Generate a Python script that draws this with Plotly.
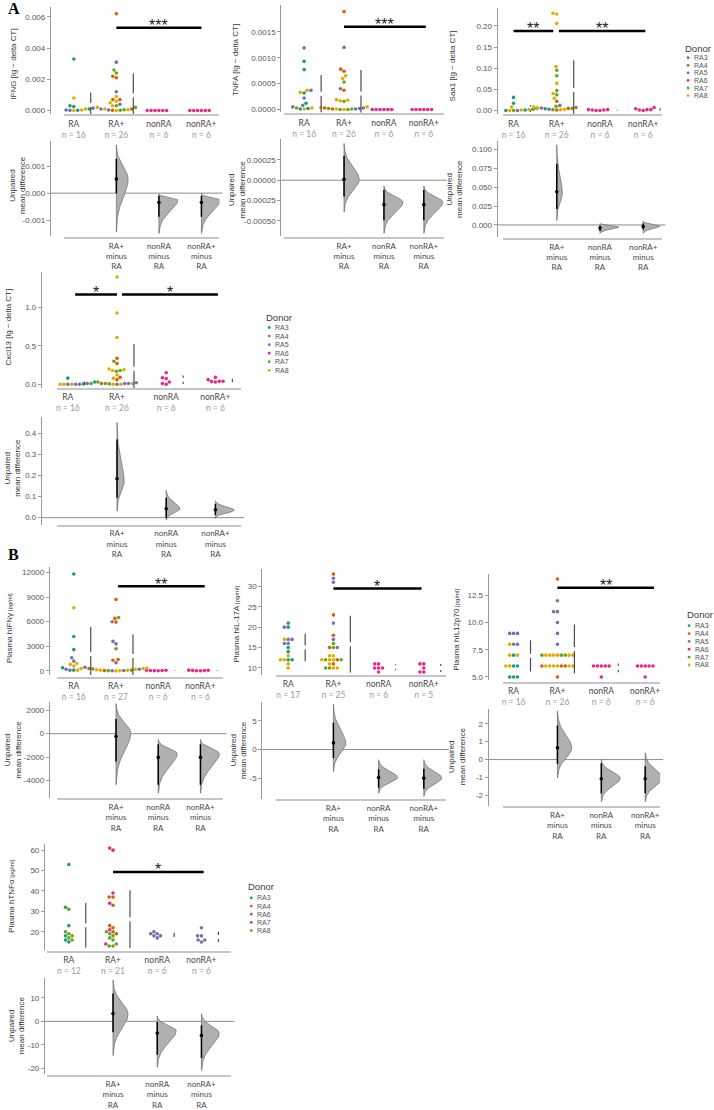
import numpy as np
import plotly.graph_objects as go

W, H = 714, 1110
DARK2 = ["#1B9E77", "#D95F02", "#7570B3", "#E7298A", "#66A61E", "#E6AB02"]
GROUPS = ["RA", "RA+", "nonRA", "nonRA+"]
DIFF_LABELS = ["RA+<br>minus<br>RA", "nonRA<br>minus<br>RA", "nonRA+<br>minus<br>RA"]
DONORS_6 = [3, 4, 5, 6, 7, 8]
DONORS_5 = [3, 4, 6, 7, 8]

# ---------------- A: IFNG ----------------
IFNG_VALUES = {
    "RA": [0.0033, 0.0008, 0.0003, 0.00025, 0.0002, 0.0002, 0.00015, 0.0001, 0.0001, 0.00005, 0.0001, 0.00003, 0.00003, 0.00002, 0.00001, 0.0],
    "RA+": [0.0062, 0.0031, 0.0026, 0.0024, 0.0022, 0.0021, 0.0012, 0.0009, 0.0007, 0.0007, 0.0006, 0.0005, 0.0004, 0.0003, 0.0003, 0.0002, 0.0002, 0.0001, 0.0001, 0.0001, 0.00005, 0.00005, 0.00003, 0.00002, 0.00001, 0.0],
    "nonRA": [0.0, 0.0, 0.0, 0.0, 0.0, 0.0],
    "nonRA+": [0.0, 0.0, 0.0, 0.0, 0.0, 0.0],
}
IFNG_DONORS = {
    "RA": [3, 8, 3, 3, 8, 7, 5, 8, 3, 7, 3, 5, 8, 3, 5, 8],
    "RA+": [4, 5, 7, 7, 4, 4, 5, 8, 4, 4, 8, 8, 5, 7, 8, 8, 7, 8, 5, 4, 7, 8, 5, 7, 4, 8],
    "nonRA": [6, 6, 6, 6, 6, 6],
    "nonRA+": [6, 6, 6, 6, 6, 6],
}
IFNG_DIFF = dict(mean=[0.00053, -0.00035, -0.00035], ci_lo=[0.0, -0.00088, -0.00088], ci_hi=[0.00128, -0.0001, -0.0001],
                 dist_lo=[-0.00145, -0.0015, -0.0015], dist_peak=[0.00052, -0.00026, -0.00026], dist_hi=[0.0018, -0.00002, -0.00002])
IFNG_SIG = [(1.0, 3.0, 0.0053, "***")]
IFNG_YTICKS = [0.0, 0.002, 0.004, 0.006]
IFNG_DTICKS = [-0.001, 0.0, 0.001]

# ---------------- A: TNFA ----------------
TNFA_VALUES = {
    "RA": [0.00119, 0.00093, 0.00077, 0.00037, 0.00033, 0.00037, 0.00032, 0.00022, 0.00012, 0.00008, 0.00003, 0.00003, 0.00002, 0.00005, 0.00001, 0.00001],
    "RA+": [0.00189, 0.0012, 0.00078, 0.00074, 0.00065, 0.0006, 0.00053, 0.0004, 0.00037, 0.00018, 0.00019, 0.00017, 0.00016, 0.00005, 0.00003, 0.00002, 0.00001, 0.00001, 0.00002, 0.0, 0.0, 0.00001, 0.00001, 0.0, 0.00004, 0.00003],
    "nonRA": [0.0, 0.0, 0.0, 0.0, 0.0, 0.0],
    "nonRA+": [0.0, 0.0, 0.0, 0.0, 0.0, 0.0],
}
TNFA_DONORS = {
    "RA": [5, 3, 3, 8, 8, 5, 3, 5, 3, 5, 7, 8, 3, 5, 8, 3],
    "RA+": [4, 5, 4, 4, 8, 8, 7, 5, 4, 8, 8, 8, 7, 8, 4, 7, 8, 7, 5, 8, 7, 4, 5, 7, 8, 5],
    "nonRA": [6, 6, 6, 6, 6, 6],
    "nonRA+": [6, 6, 6, 6, 6, 6],
}
TNFA_DIFF = dict(mean=[0.00001, -0.0003, -0.0003], ci_lo=[-0.0002, -0.00049, -0.00049], ci_hi=[0.0003, -0.00012, -0.00012],
                 dist_lo=[-0.00039, -0.00065, -0.00065], dist_peak=[0.00001, -0.00027, -0.00027], dist_hi=[0.00045, -0.00007, -0.00007])
TNFA_SIG = [(1.0, 3.05, 0.0016, "***")]
TNFA_YTICKS = [0.0, 0.0005, 0.001, 0.0015]
TNFA_DTICKS = [-0.0005, -0.00025, 0.0, 0.00025]

# ---------------- A: Saa1 ----------------
SAA1_VALUES = {
    "RA": [0.031, 0.017, 0.008, 0.005, 0.004, 0.003, 0.003, 0.002, 0.001, 0.001, 0.001, 0.001, 0.0, 0.0, 0.0, 0.0],
    "RA+": [0.23, 0.228, 0.206, 0.104, 0.095, 0.082, 0.064, 0.047, 0.04, 0.037, 0.029, 0.022, 0.012, 0.01, 0.008, 0.007, 0.006, 0.006, 0.005, 0.005, 0.004, 0.003, 0.003, 0.002, 0.002, 0.001],
    "nonRA": [0.002, 0.001, 0.002, 0.0, 0.001, 0.0],
    "nonRA+": [0.007, 0.004, 0.002, 0.001, 0.0, 0.002],
}
SAA1_DONORS = {
    "RA": [3, 3, 8, 7, 4, 5, 3, 8, 8, 5, 3, 4, 7, 8, 5, 3],
    "RA+": [8, 8, 8, 8, 7, 7, 8, 7, 8, 7, 8, 4, 5, 7, 8, 4, 5, 8, 4, 7, 3, 5, 8, 7, 8, 4],
    "nonRA": [6, 6, 6, 6, 6, 6],
    "nonRA+": [6, 6, 6, 6, 6, 6],
}
SAA1_DIFF = dict(mean=[0.044, -0.004, -0.002], ci_lo=[0.021, -0.008, -0.006], ci_hi=[0.081, -0.001, 0.002],
                 dist_lo=[0.006, -0.011, -0.011], dist_peak=[0.042, -0.003, -0.002], dist_hi=[0.106, 0.002, 0.005])
SAA1_SIG = [(0.0, 0.92, 0.188, "**"), (1.05, 3.05, 0.188, "**")]
SAA1_YTICKS = [0.0, 0.05, 0.1, 0.15, 0.2]
SAA1_DTICKS = [0.0, 0.025, 0.05, 0.075, 0.1]

# ---------------- A: Cxcl13 ----------------
CXCL13_VALUES = {
    "RA": [0.08, 0.03, 0.02, 0.01, 0.01, 0.0, 0.0, 0.01, 0.01, 0.005, 0.005, 0.0, 0.0, 0.0, 0.0, 0.0],
    "RA+": [1.4, 0.93, 0.61, 0.34, 0.30, 0.27, 0.20, 0.19, 0.18, 0.17, 0.18, 0.09, 0.12, 0.08, 0.06, 0.03, 0.02, 0.01, 0.01, 0.01, 0.01, 0.01, 0.005, 0.0, 0.0, 0.0],
    "nonRA": [0.15, 0.085, 0.075, 0.03, 0.01, 0.0],
    "nonRA+": [0.04, 0.04, 0.09, 0.06, 0.03, 0.035],
}
CXCL13_DONORS = {
    "RA": [3, 3, 3, 3, 5, 5, 8, 8, 7, 5, 3, 8, 8, 5, 7, 5],
    "RA+": [8, 8, 8, 4, 7, 4, 8, 8, 7, 7, 8, 4, 8, 8, 4, 7, 5, 5, 5, 7, 8, 4, 7, 5, 8, 8],
    "nonRA": [6, 6, 6, 6, 6, 6],
    "nonRA+": [6, 6, 6, 6, 6, 6],
}
CXCL13_DIFF = dict(mean=[0.184, 0.042, 0.037], ci_lo=[0.094, 0.0, 0.012], ci_hi=[0.37, 0.094, 0.065],
                   dist_lo=[0.031, -0.012, -0.003], dist_peak=[0.17, 0.04, 0.035], dist_hi=[0.45, 0.13, 0.08])
CXCL13_SIG = [(0.15, 1.0, 1.17, "*"), (1.1, 3.05, 1.17, "*")]
CXCL13_YTICKS = [0.0, 0.5, 1.0]
CXCL13_DTICKS = [0.0, 0.1, 0.2, 0.3, 0.4]

# ---------------- B: IFNγ ----------------
IFNY_VALUES = {
    "RA": [11800, 7700, 4200, 2600, 1600, 1200, 900, 800, 600, 400, 450, 300, 200, 100, 100, 100],
    "RA+": [8700, 6500, 6400, 6000, 5950, 3600, 3300, 2700, 1400, 1300, 1000, 350, 300, 300, 250, 200, 150, 200, 100, 100, 80, 60, 50, 40, 30, 20, 10],
    "nonRA": [100, 80, 60, 50, 40, 30],
    "nonRA+": [100, 80, 70, 50, 30, 20],
}
IFNY_DONORS = {
    "RA": [3, 8, 3, 3, 5, 5, 8, 8, 8, 3, 5, 8, 5, 3, 5, 8],
    "RA+": [4, 7, 4, 5, 4, 5, 5, 7, 4, 4, 5, 8, 8, 4, 7, 8, 8, 5, 8, 7, 8, 4, 5, 7, 8, 5, 8],
    "nonRA": [6, 6, 6, 6, 6, 6],
    "nonRA+": [6, 6, 6, 6, 6, 6],
}
IFNY_DIFF = dict(mean=[-230, -2030, -2030], ci_lo=[-2370, -4370, -4370], ci_hi=[1260, -900, -900],
                 dist_lo=[-4370, -5090, -5090], dist_peak=[50, -1700, -1700], dist_hi=[2570, -490, -490])
IFNY_SIG = [(1.05, 3.1, 10300, "**")]
IFNY_YTICKS = [0, 3000, 6000, 9000, 12000]
IFNY_DTICKS = [-4000, -2000, 0, 2000]

# ---------------- B: IL-17A ----------------
IL17_VALUES = {
    "RA": [21, 20, 20, 17, 17, 17, 16, 16, 15, 14, 13, 12, 12, 12, 12, 11, 10],
    "RA+": [33, 32, 31, 23, 21, 18, 17, 16, 15, 15, 15, 13, 13, 12, 12, 12, 12, 12, 12, 11, 11, 10, 10, 10, 10],
    "nonRA": [10, 10, 11, 9, 11, 10],
    "nonRA+": [11, 9, 9, 11, 10],
}
IL17_DONORS = {
    "RA": [3, 3, 5, 5, 8, 5, 5, 5, 3, 3, 8, 3, 8, 3, 8, 8, 8],
    "RA+": [4, 5, 5, 4, 5, 4, 5, 7, 7, 4, 5, 8, 8, 8, 8, 4, 7, 7, 8, 4, 8, 8, 7, 8, 7],
    "nonRA": [6, 6, 6, 6, 6, 6],
    "nonRA+": [6, 6, 6, 6, 6],
}
IL17_DIFF = dict(mean=[1.16, -4.83, -4.94], ci_lo=[-1.45, -6.6, -6.8], ci_hi=[4.65, -3.4, -3.3],
                 dist_lo=[-3.8, -7.56, -8.1], dist_peak=[1.0, -4.8, -4.9], dist_hi=[7.85, -1.75, -1.75])
IL17_SIG = [(1.0, 2.95, 29.5, "*")]
IL17_YTICKS = [10, 15, 20, 25, 30]
IL17_DTICKS = [-5, 0, 5]

# ---------------- B: IL12p70 ----------------
IL12_VALUES = {
    "RA": [9, 9, 9, 8, 8, 8, 7, 7, 7, 6, 6, 6, 6, 5, 5, 5],
    "RA+": [14, 12, 11, 11, 10, 9, 8, 7, 7, 7, 7, 7, 7, 7, 7, 7, 6, 6, 6, 6, 6, 6, 6, 6, 6, 5],
    "nonRA": [6, 6, 6, 6, 6, 5],
    "nonRA+": [6, 6, 6, 6, 6, 5],
}
IL12_DONORS = {
    "RA": [5, 5, 5, 5, 8, 5, 3, 8, 8, 3, 8, 3, 8, 3, 3, 3],
    "RA+": [4, 5, 5, 5, 5, 5, 5, 8, 8, 7, 8, 7, 8, 8, 7, 8, 8, 8, 4, 8, 4, 8, 8, 4, 8, 4],
    "nonRA": [6, 6, 6, 6, 6, 6],
    "nonRA+": [6, 6, 6, 6, 6, 6],
}
IL12_DIFF = dict(mean=[0.66, -1.07, -1.07], ci_lo=[-0.25, -1.9, -1.88], ci_hi=[1.9, -0.2, -0.38],
                 dist_lo=[-1.03, -2.35, -2.35], dist_peak=[0.65, -1.05, -1.05], dist_hi=[2.72, 0.0, 0.38])
IL12_SIG = [(1.0, 3.2, 13.2, "**")]
IL12_YTICKS = [5.0, 7.5, 10.0, 12.5]
IL12_DTICKS = [-2, -1, 0, 1, 2]

# ---------------- B: TNFα ----------------
TNFa_VALUES = {
    "RA": [53, 32, 31, 23, 20, 19, 18, 18, 17, 16, 16, 15],
    "RA+": [61, 60, 39, 37, 37, 34, 33, 23, 22, 21, 20, 20, 19, 19, 18, 17, 16, 14, 14, 13, 13],
    "nonRA": [19, 20, 19, 18, 17, 18],
    "nonRA+": [22, 18, 18, 16, 16, 15],
}
TNFa_DONORS = {
    "RA": [3, 3, 8, 3, 8, 8, 3, 8, 8, 3, 8, 3],
    "RA+": [7, 7, 7, 4, 4, 7, 4, 4, 4, 7, 4, 8, 8, 4, 8, 8, 8, 8, 7, 8, 8],
    "nonRA": [6, 6, 6, 6, 6, 6],
    "nonRA+": [6, 6, 6, 6, 6, 6],
}
TNFa_DIFF = dict(mean=[3.3, -5.0, -6.0], ci_lo=[-4.6, -14.3, -15.7], ci_hi=[11.9, -0.3, -1.7],
                 dist_lo=[-14.6, -19.6, -21.0], dist_peak=[3.0, -4.0, -5.0], dist_hi=[17.6, 2.3, 3.3])
TNFa_SIG = [(1.0, 3.05, 49.3, "*")]
TNFa_YTICKS = [20, 30, 40, 50, 60]
TNFa_DTICKS = [-20, -10, 0, 10]

PG = "<span style='font-size:6px'> [pg/ml]</span>"

PANELS = [
    dict(vals=IFNG_VALUES, dons=IFNG_DONORS, diff=IFNG_DIFF, sig=IFNG_SIG, dset=DONORS_6,
         yt=IFNG_YTICKS, dt=IFNG_DTICKS, ft="{:.3f}", fd="{:.3f}", title="IFNG [lg − delta CT]",
         lay=dict(yx=48, xd=(62, 218), xcal=(72, 200), top=(7, 115), yct=((0, 111), (0.006, 17)), xlt=116,
                  bot=(142, 237), ycb=((0, 194), (0.001, 167)), xlb=239, tt=(12, 64), tb=(15, 186)), legend=None),
    dict(vals=TNFA_VALUES, dons=TNFA_DONORS, diff=TNFA_DIFF, sig=TNFA_SIG, dset=DONORS_6,
         yt=TNFA_YTICKS, dt=TNFA_DTICKS, ft="{:.4f}", fd="{:.5f}", title="TNFA [lg − delta CT]",
         lay=dict(yx=279, xd=(283, 443), xcal=(303, 423), top=(5, 113), yct=((0, 110), (0.0015, 32)), xlt=115,
                  bot=(140, 237), ycb=((0, 181), (-0.0005, 222)), xlb=239, tt=(234, 60), tb=(235, 190)), legend=None),
    dict(vals=SAA1_VALUES, dons=SAA1_DONORS, diff=SAA1_DIFF, sig=SAA1_SIG, dset=DONORS_6,
         yt=SAA1_YTICKS, dt=SAA1_DTICKS, ft="{:.2f}", fd="{:.3f}", title="Saa1 [lg − delta CT]",
         lay=dict(yx=496, xd=(502, 662), xcal=(513, 643), top=(8, 115), yct=((0, 111), (0.2, 26)), xlt=116,
                  bot=(142, 238), ycb=((0, 226), (0.1, 150)), xlb=240, tt=(452, 66), tb=(453, 190)),
         legend=(683, 49, 688, 58, 7.6)),
    dict(vals=CXCL13_VALUES, dons=CXCL13_DONORS, diff=CXCL13_DIFF, sig=CXCL13_SIG, dset=DONORS_6,
         yt=CXCL13_YTICKS, dt=CXCL13_DTICKS, ft="{:.1f}", fd="{:.1f}", title="Cxcl13 [lg − delta CT]",
         lay=dict(yx=39, xd=(55, 240), xcal=(66, 214), top=(273, 390), yct=((0, 386), (1.0, 309)), xlt=391,
                  bot=(419, 527), ycb=((0, 520), (0.4, 435)), xlb=528, tt=(7, 328), tb=(11, 470)),
         legend=(263, 319, 268, 329, 8.6)),
    dict(vals=IFNY_VALUES, dons=IFNY_DONORS, diff=IFNY_DIFF, sig=IFNY_SIG, dset=DONORS_6,
         yt=IFNY_YTICKS, dt=IFNY_DTICKS, ft="{:.0f}", fd="{:.0f}", title="Plasma hIFNγ" + PG,
         lay=dict(yx=47, xd=(55, 222), xcal=(72, 199), top=(570, 678), yct=((0, 674), (12000, 575)), xlt=681,
                  bot=(705, 802), ycb=((0, 737), (-4000, 784)), xlb=803, tt=(7, 631), tb=(11, 753)), legend=None),
    dict(vals=IL17_VALUES, dons=IL17_DONORS, diff=IL17_DIFF, sig=IL17_SIG, dset=DONORS_6,
         yt=IL17_YTICKS, dt=IL17_DTICKS, ft="{:.0f}", fd="{:.0f}", title="Plasma hIL-17A" + PG,
         lay=dict(yx=260, xd=(275, 445), xcal=(287, 423), top=(572, 678), yct=((10, 671), (30, 589)), xlt=679,
                  bot=(705, 803), ycb=((0, 753), (-5, 782)), xlb=804, tt=(235, 627), tb=(237, 753)), legend=None),
    dict(vals=IL12_VALUES, dons=IL12_DONORS, diff=IL12_DIFF, sig=IL12_SIG, dset=DONORS_6,
         yt=IL12_YTICKS, dt=IL12_DTICKS, ft="{:.1f}", fd="{:.0f}", title="Plasma hIL12p70" + PG,
         lay=dict(yx=487, xd=(502, 660), xcal=(513, 645), top=(577, 683), yct=((5, 680), (12.5, 598)), xlt=686,
                  bot=(712, 810), ycb=((0, 763), (-2, 799)), xlb=811, tt=(455, 633), tb=(456, 760)),
         legend=(685, 617, 689, 628.5, 7.9)),
    dict(vals=TNFa_VALUES, dons=TNFa_DONORS, diff=TNFa_DIFF, sig=TNFa_SIG, dset=DONORS_5,
         yt=TNFa_YTICKS, dt=TNFa_DTICKS, ft="{:.0f}", fd="{:.0f}", title="Plasma hTNFα" + PG,
         lay=dict(yx=42, xd=(45, 230), xcal=(67, 200), top=(848, 954), yct=((20, 936), (60, 854)), xlt=956,
                  bot=(982, 1079), ycb=((0, 1026), (-20, 1073)), xlb=1081, tt=(10, 900), tb=(14, 1030)),
         legend=(245, 891, 250, 902, 8.2)),
]


def beeswarm(vals, ppy, d):
    ys = np.asarray(vals, float) * ppy
    order = np.argsort(ys, kind="stable")
    placed = []
    xs = np.zeros(len(ys))
    for i in order:
        y = ys[i]
        cands = [0.0]
        intervals = []
        for (px, py) in placed:
            dy = abs(py - y)
            if dy < d:
                dx = np.sqrt(d * d - dy * dy)
                intervals.append((px - dx, px + dx))
                cands += [px - dx, px + dx]
        cands.sort(key=lambda c: (abs(c), c))
        for c in cands:
            if all(not (lo + 1e-6 < c < hi - 1e-6) for lo, hi in intervals):
                xs[i] = c
                break
        placed.append((xs[i], y))
    return xs


def nm(i, a):
    return a if i == 1 else f"{a}{i}"


def px_x(p):
    return p / W


def px_y(p):
    return 1 - p / H


def yrange(dom, c):
    (v1, q1), (v2, q2) = c
    s = (q2 - q1) / (v2 - v1)
    return [v1 + (dom[1] - q1) / s, v1 + (dom[0] - q1) / s], abs(s)


fig = go.Figure()
lay = {}
shapes = []
ann = []

TICKFONT = dict(family="Liberation Sans", size=8, color="#555555")
CATFONT = dict(family="Lato", size=8.5, color="#4a4a4a")
TITLEFONT = dict(family="Liberation Sans", size=8, color="#333333")


def text(x, y, t, font, angle=0, xanchor="center", yanchor="middle", xref="paper", yref="paper", yshift=0):
    ann.append(dict(x=x, y=y, xref=xref, yref=yref, text=t, showarrow=False, textangle=angle, font=font,
                    xanchor=xanchor, yanchor=yanchor, yshift=yshift))


for pi, P in enumerate(PANELS):
    L = P["lay"]
    it, ib = 2 * pi + 1, 2 * pi + 2
    xt, yt, xb, yb = nm(it, "x"), nm(it, "y"), nm(ib, "x"), nm(ib, "y")
    p0, p3 = L["xcal"]
    pxu = (p3 - p0) / 3.0
    xr = [(L["xd"][0] - p0) / pxu, (L["xd"][1] - p0) / pxu]
    yr_t, ppy_t = yrange(L["top"], L["yct"])
    yr_b, ppy_b = yrange(L["bot"], L["ycb"])

    # ---- swarm points
    dxs = {d: [] for d in P["dset"]}
    dys = {d: [] for d in P["dset"]}
    for gi, g in enumerate(GROUPS):
        v = P["vals"][g]
        offs = beeswarm(v, ppy_t, 3.9)
        for val, dn, o in zip(v, P["dons"][g], offs):
            dxs[dn].append(gi + o / pxu)
            dys[dn].append(val)
    for di, dn in enumerate(P["dset"]):
        if dxs[dn]:
            fig.add_trace(go.Scatter(x=dxs[dn], y=dys[dn], mode="markers", xaxis=xt, yaxis=yt,
                                     marker=dict(size=3.6, color=DARK2[di], line=dict(width=0)),
                                     cliponaxis=False, hoverinfo="skip", showlegend=False))

    # ---- mean +/- sd gapped lines
    gx, gy = [], []
    off = 17 / pxu
    gap = 2.0 / ppy_t
    for gi, g in enumerate(GROUPS):
        v = np.asarray(P["vals"][g], float)
        m, s = v.mean(), v.std(ddof=1)
        if s <= 0:
            continue
        if s > gap * 1.5:
            gx += [gi + off, gi + off, None, gi + off, gi + off, None]
            gy += [m - s, m - gap, None, m + gap, m + s, None]
        else:
            gx += [gi + off, gi + off, None]
            gy += [m - s, m + s, None]
    fig.add_trace(go.Scatter(x=gx, y=gy, mode="lines", line=dict(color="#474747", width=1.15),
                             xaxis=xt, yaxis=yt, hoverinfo="skip", showlegend=False))

    # ---- difference violins
    D = P["diff"]
    spreads = np.array(D["dist_hi"]) - np.array(D["dist_lo"])
    rel = (spreads.min() / spreads) ** 0.6
    for k in range(3):
        lo, pk, hi = D["dist_lo"][k], D["dist_peak"][k], D["dist_hi"][k]
        yy = np.linspace(lo, hi, 160)
        s_lo, s_hi = (pk - lo) / 3.0, (hi - pk) / 3.0
        z = np.where(yy < pk, (yy - pk) / s_lo, (yy - pk) / s_hi)
        dens = np.exp(-0.5 * z * z)
        w = 19 * rel[k] / pxu
        xc = k + 1
        vx = np.concatenate([xc + w * dens, np.full(len(yy), xc)])
        vy = np.concatenate([yy, yy[::-1]])
        fig.add_trace(go.Scatter(x=vx, y=vy, mode="lines", fill="toself", fillcolor="#b0b0b0",
                                 line=dict(color="#6a6a6a", width=0.7), xaxis=xb, yaxis=yb,
                                 hoverinfo="skip", showlegend=False))
        fig.add_trace(go.Scatter(x=[xc, xc], y=[D["ci_lo"][k], D["ci_hi"][k]], mode="lines",
                                 line=dict(color="black", width=1.5), xaxis=xb, yaxis=yb,
                                 hoverinfo="skip", showlegend=False))
        fig.add_trace(go.Scatter(x=[xc], y=[D["mean"][k]], mode="markers",
                                 marker=dict(color="black", size=3.6), xaxis=xb, yaxis=yb,
                                 hoverinfo="skip", showlegend=False))

    # ---- axes
    ttext = [f"{g}<br><span style='color:#9b9b9b'>n = {len(P['vals'][g])}</span>" for g in GROUPS]
    lay[nm(it, "xaxis")] = dict(domain=[px_x(L["xd"][0]), px_x(L["xd"][1])], range=xr, anchor="free",
                                position=px_y(L["xlt"]), showline=True, linecolor="#c6c6c6", linewidth=2,
                                ticks="", tickmode="array", tickvals=[0, 1, 2, 3], ticktext=ttext,
                                tickfont=CATFONT, showgrid=False, zeroline=False, fixedrange=True)
    lay[nm(it, "yaxis")] = dict(domain=[px_y(L["top"][1]), px_y(L["top"][0])], range=yr_t, anchor="free",
                                position=px_x(L["yx"]), showline=True, linecolor="#9a9a9a", linewidth=1,
                                ticks="outside", ticklen=3, tickcolor="#9a9a9a", tickmode="array",
                                tickvals=P["yt"], ticktext=[P["ft"].format(v) for v in P["yt"]],
                                tickfont=TICKFONT, showgrid=False, zeroline=False, fixedrange=True)
    lay[nm(ib, "xaxis")] = dict(domain=[px_x(L["xd"][0]), px_x(L["xd"][1])], range=xr, anchor="free",
                                position=px_y(L["xlb"]), showline=True, linecolor="#c6c6c6", linewidth=2,
                                ticks="", tickmode="array", tickvals=[1, 2, 3], ticktext=DIFF_LABELS,
                                tickfont=dict(family="Lato", size=8, color="#4a4a4a"),
                                showgrid=False, zeroline=False, fixedrange=True)
    lay[nm(ib, "yaxis")] = dict(domain=[px_y(L["bot"][1]), px_y(L["bot"][0])], range=yr_b, anchor="free",
                                position=px_x(L["yx"]), showline=True, linecolor="#9a9a9a", linewidth=1,
                                ticks="outside", ticklen=3, tickcolor="#9a9a9a", tickmode="array",
                                tickvals=P["dt"], ticktext=[P["fd"].format(v) for v in P["dt"]],
                                tickfont=TICKFONT, showgrid=False, zeroline=False, fixedrange=True)

    # zero line of difference axes
    shapes.append(dict(type="line", xref="paper", yref=yb, x0=px_x(L["yx"]), x1=px_x(L["xd"][1] + 3),
                       y0=0, y1=0, line=dict(color="#8c8c8c", width=1), layer="below"))

    # significance bars
    for (a, b, yv, lab) in P["sig"]:
        shapes.append(dict(type="line", xref=xt, yref=yt, x0=a, x1=b, y0=yv, y1=yv,
                           line=dict(color="black", width=2.5)))
        text((a + b) / 2, yv, lab, dict(family="Liberation Sans", size=16, color="#222"),
             xref=xt, yref=yt, yshift=2)

    # axis titles
    text(px_x(L["tt"][0]), px_y(L["tt"][1]), P["title"], TITLEFONT, angle=-90)
    text(px_x(L["tb"][0]), px_y(L["tb"][1]), "Unpaired<br>mean difference", TITLEFONT, angle=-90)

    # donor legend: small coloured dots (shapes) + labels
    if P["legend"]:
        lx, ly, ix, iy0, idy = P["legend"]
        text(px_x(lx), px_y(ly), "Donor", dict(family="Liberation Sans", size=9.5, color="#3c3c3c"), xanchor="left")
        for di, dn in enumerate(P["dset"]):
            cy = iy0 + di * idy
            shapes.append(dict(type="circle", xref="paper", yref="paper",
                               x0=px_x(ix - 1.4), x1=px_x(ix + 1.4), y0=px_y(cy + 1.4), y1=px_y(cy - 1.4),
                               fillcolor=DARK2[di], line=dict(width=0)))
            text(px_x(ix + 4), px_y(cy), f"RA{dn}",
                 dict(family="Liberation Sans", size=7, color="#555555"), xanchor="left")

# panel letters
text(px_x(4), px_y(9), "<b>A</b>", dict(family="Liberation Serif", size=16, color="black"), xanchor="left")
text(px_x(4), px_y(557), "<b>B</b>", dict(family="Liberation Serif", size=16, color="black"), xanchor="left")

fig.update_layout(width=W, height=H, margin=dict(l=0, r=0, t=0, b=0), paper_bgcolor="white",
                  plot_bgcolor="rgba(0,0,0,0)", showlegend=False, shapes=shapes, annotations=ann, **lay)

fig.write_html("out.html", include_plotlyjs=True, config={"displayModeBar": False})
